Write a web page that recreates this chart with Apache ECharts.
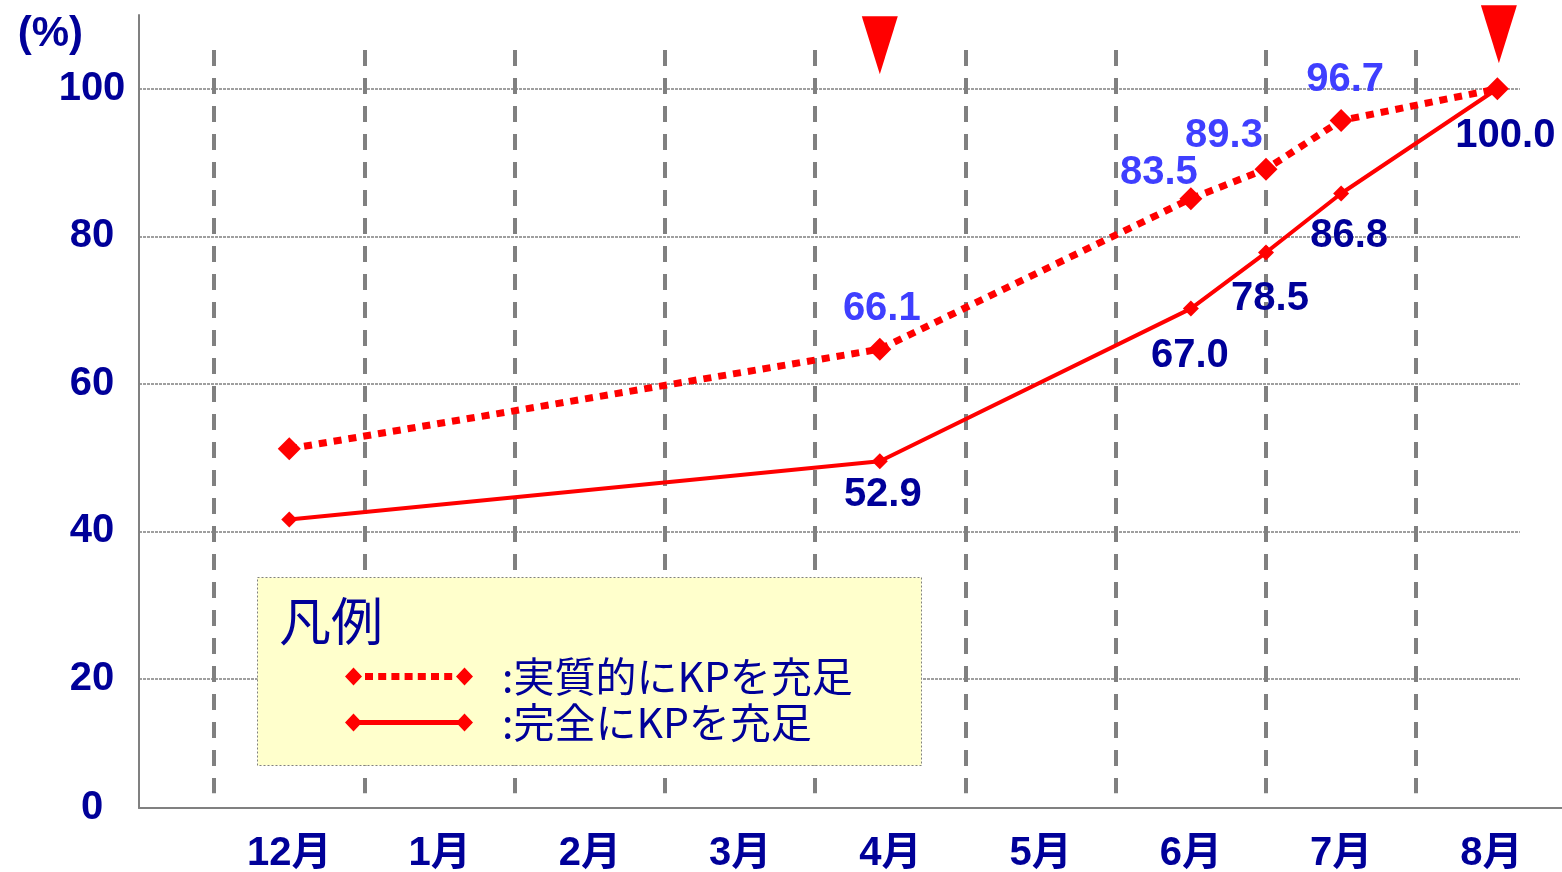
<!DOCTYPE html>
<html>
<head>
<meta charset="utf-8">
<script src="https://cdn.jsdelivr.net/npm/echarts@6/dist/echarts.min.js"></script>
<style>
html,body{margin:0;padding:0;background:#fff;}
#chart{width:1562px;height:872px;}
</style>
</head>
<body>
<div id="chart"></div>
<script>
// ---- data ----
const months = ['12月', '1月', '2月', '3月', '4月', '5月', '6月', '7月', '8月'];
// position of each observation on the month scale (12月 = 0)
const pointPos = [0, 3.93, 6, 6.5, 7, 8.04];
const practicalValues = [51.2, 64.7, 85.1, 89.1, 95.7, 100];
const practicalLabels = ['', '66.1', '83.5', '89.3', '96.7', ''];
const completeValues = [41.6, 49.5, 70.2, 77.8, 85.8, 100];
const completeLabels = ['', '52.9', '67.0', '78.5', '86.8', '100.0'];
const gridValues = [20, 40, 60, 80, 100];
const monthDividers = [-0.5, 0.5, 1.5, 2.5, 3.5, 4.5, 5.5, 6.5, 7.5];
const milestonePos = [3.93, 8.05];
const milestoneLevel = [105.9, 107.4];
const seriesNames = [':実質的にKPを充足', ':完全にKPを充足'];
const legendTitle = '凡例';
const unitLabel = '(%)';

// ---- layout / style ----
const NAVY = '#000099';
const BLUE = '#3f3fff';
const RED = '#ff0000';
const GRAY = '#808080';
const NUM_FONT = '"Liberation Sans", "Noto Sans CJK JP", Arial, sans-serif';
const CJK_FONT = '"Noto Sans CJK JP", "Liberation Sans", sans-serif';
const practicalOffsets = [null, [2, -40], [-32, -26], [-42, -33], [4, -41], null];
const completeOffsets = [null, [3, 34], [-1, 47], [4, 46], [8, 42], [8, 47]];

function buildData(values, labels, offsets, color) {
  return values.map((v, i) => ({
    value: [pointPos[i], v],
    label: labels[i] ? {
      show: true, position: 'inside', formatter: labels[i],
      offset: offsets[i], color: color, fontSize: 40, fontWeight: 'bold',
      fontFamily: NUM_FONT
    } : { show: false }
  }));
}

// legend icons: diamond at both ends with dotted / solid line between
function dottedIcon() {
  let p = 'M0 9L8.5 0L17 9L8.5 18Z M111 9L119.5 0L128 9L119.5 18Z';
  for (let k = 0; k < 7; k++) {
    const x = 20 + k * 13.2;
    p += ' M' + x + ' 5.5L' + (x + 8) + ' 5.5L' + (x + 8) + ' 12.5L' + x + ' 12.5Z';
  }
  return 'path://' + p;
}
function solidIcon() {
  return 'path://M0 9L8.5 0L17 9L8.5 18Z M111 9L119.5 0L128 9L119.5 18Z M8 6.5L120 6.5L120 11.5L8 11.5Z';
}

const chart = echarts.init(document.getElementById('chart'), null, { renderer: 'canvas' });
const option = {
  animation: false,
  backgroundColor: '#ffffff',
  grid: { left: 139, right: 0, top: 15, bottom: 64, containLabel: false, outerBoundsMode: 'none' },
  xAxis: {
    type: 'value', min: -1, max: 8.47, interval: 1,
    axisLine: { onZero: false, lineStyle: { color: GRAY, width: 2 } },
    axisTick: { show: false },
    splitLine: { show: false },
    axisLabel: {
      formatter: function (v) {
        const r = Math.round(v);
        return (Math.abs(v - r) < 1e-6 && r >= 0 && r < months.length) ? months[r] : '';
      },
      color: NAVY, fontSize: 40, fontWeight: 'bold', fontFamily: NUM_FONT, margin: 26
    }
  },
  yAxis: {
    type: 'value', min: 2.5, max: 110, minInterval: 20, maxInterval: 20,
    name: unitLabel, nameLocation: 'end', nameGap: -40, nameMoveOverlap: false,
    nameTextStyle: { color: NAVY, fontSize: 42, fontWeight: 'bold', fontFamily: NUM_FONT, align: 'right', padding: [0, 56, 0, 0] },
    axisLine: { show: true, onZero: false, lineStyle: { color: GRAY, width: 2 } },
    axisTick: { show: false },
    splitLine: { show: false },
    axisLabel: {
      formatter: function (v) { return v < 10 ? '0' : (v > 105 ? '' : String(v)); },
      color: NAVY, fontSize: 40, fontWeight: 'bold', fontFamily: NUM_FONT,
      align: 'center', margin: 47, padding: [12, 0, 0, 0]
    }
  },
  legend: {
    orient: 'vertical', left: 345, top: 656, padding: 0,
    itemWidth: 128, itemHeight: 18, itemGap: 5,
    itemStyle: { color: RED, borderWidth: 0 },
    textStyle: { color: NAVY, fontSize: 41, fontFamily: CJK_FONT, padding: [0, 0, 0, 24] },
    selectedMode: false,
    data: [
      { name: seriesNames[0], icon: dottedIcon() },
      { name: seriesNames[1], icon: solidIcon() }
    ]
  },
  graphic: [
    {
      type: 'rect', left: 257, top: 577, z: 3, silent: true,
      shape: { width: 664, height: 188 },
      style: { fill: '#ffffcc', stroke: GRAY, lineWidth: 1, lineDash: [2, 2] }
    },
    {
      type: 'text', left: 279, top: 595, z: 5, silent: true,
      style: { text: legendTitle, fill: NAVY, fontSize: 52, fontFamily: CJK_FONT }
    }
  ],
  series: [
    {
      name: 'guides', type: 'line', data: [], z: 1, silent: true,
      markLine: {
        z: 1, silent: true, symbol: ['none', 'none'], label: { show: false },
        data: gridValues.map(v => [
          { coord: [-1, v], lineStyle: { color: GRAY, width: 1.5, type: [3, 1] } },
          { coord: [8.19, v] }
        ]).concat(monthDividers.map(x => [
          { coord: [x, 105.25], lineStyle: { color: GRAY, width: 4, type: [16, 12] } },
          { coord: [x, 4.5] }
        ]))
      }
    },
    {
      name: seriesNames[0], type: 'line', z: 2,
      data: buildData(practicalValues, practicalLabels, practicalOffsets, BLUE),
      symbol: 'diamond', symbolSize: 23, showAllSymbol: true,
      itemStyle: { color: RED, borderWidth: 0 },
      lineStyle: { color: RED, width: 7, type: [8, 7] },
      markPoint: {
        silent: true, symbol: 'triangle', symbolRotate: 180, symbolSize: [36, 58],
        itemStyle: { color: RED }, label: { show: false },
        data: milestonePos.map((x, i) => ({ coord: [x, milestoneLevel[i]] }))
      }
    },
    {
      name: seriesNames[1], type: 'line', z: 2,
      data: buildData(completeValues, completeLabels, completeOffsets, NAVY),
      symbol: 'diamond', symbolSize: 16, showAllSymbol: true,
      itemStyle: { color: RED, borderWidth: 0 },
      lineStyle: { color: RED, width: 4 }
    }
  ]
};
chart.setOption(option);
</script>
</body>
</html>
